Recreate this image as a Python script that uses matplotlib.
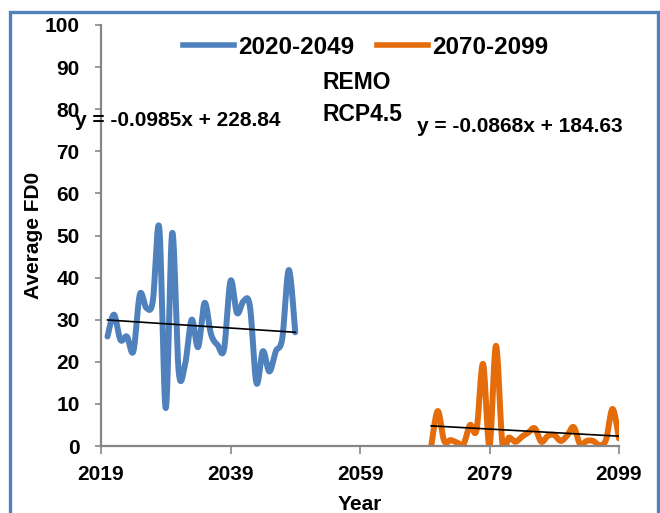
import numpy as np
import matplotlib
matplotlib.use("Agg")
import matplotlib.pyplot as plt
from matplotlib.patches import Rectangle
from matplotlib.lines import Line2D

years_early = list(range(2020, 2050))
fd0_early = [26.0, 31.2, 25.2, 26.0, 22.5, 36.0, 32.8, 34.4, 51.8, 9.0,
             50.6, 17.7, 19.5, 30.0, 23.5, 34.0, 26.5, 24.0, 23.0, 39.2,
             31.6, 34.4, 33.2, 15.0, 22.5, 17.7, 22.5, 25.6, 41.8, 27.0]
years_late = list(range(2070, 2100))
fd0_late = [0.0, 8.3, 1.2, 1.4, 0.8, 0.5, 5.0, 3.8, 19.5, 0.0,
            23.8, 0.5, 2.0, 1.0, 2.2, 3.2, 4.2, 1.0, 2.4, 2.6,
            1.2, 2.5, 4.5, 0.4, 1.2, 1.2, 0.2, 1.5, 8.8, 1.8]
series_labels = ["2020-2049", "2070-2099"]
eq_labels = ["y = -0.0985x + 228.84", "y = -0.0868x + 184.63"]
x_ticks = [2019, 2039, 2059, 2079, 2099]
y_ticks = list(range(0, 101, 10))

FONT = ["Liberation Sans", "DejaVu Sans"]
plt.rcParams["font.family"] = FONT
plt.rcParams["font.weight"] = "bold"

BLUE = "#4F81BD"
ORANGE = "#E46C0A"
GRAY = "#868686"


def smooth(x, y, n=24):
    """Excel-style smoothed line (Catmull-Rom Bezier through the points)."""
    x = np.asarray(x, float)
    y = np.asarray(y, float)
    P = np.column_stack([x, y])
    Pp = np.vstack([P[0], P, P[-1]])
    out = []
    t = np.linspace(0, 1, n, endpoint=False)[:, None]
    for i in range(len(P) - 1):
        p0, p1, p2, p3 = Pp[i], Pp[i + 1], Pp[i + 2], Pp[i + 3]
        c1 = p1 + (p2 - p0) / 6.0
        c2 = p2 - (p3 - p1) / 6.0
        seg = ((1 - t) ** 3) * p1 + 3 * ((1 - t) ** 2) * t * c1 + 3 * (1 - t) * t ** 2 * c2 + t ** 3 * p2
        out.append(seg)
    out.append(P[-1][None, :])
    out = np.vstack(out)
    return out[:, 0], out[:, 1]


fig = plt.figure(figsize=(6.6, 5.13), dpi=100)
ax = fig.add_axes([101 / 660, 1 - 446 / 513, (619 - 101) / 660, (446 - 25) / 513])

for xs, ys, col in [(years_early, fd0_early, BLUE), (years_late, fd0_late, ORANGE)]:
    sx, sy = smooth(xs, ys)
    ax.plot(sx, sy, color=col, lw=4.3, solid_capstyle="round", solid_joinstyle="round", zorder=2)
    k, b = np.polyfit(xs, ys, 1)
    xx = np.array([xs[0], xs[-1]], float)
    ax.plot(xx, k * xx + b, color="black", lw=1.2, zorder=3)

ax.set_xlim(2019, 2099)
ax.set_ylim(0, 100)
ax.set_xticks(x_ticks)
ax.set_yticks(y_ticks)
for s in ["top", "right"]:
    ax.spines[s].set_visible(False)
for s in ["left", "bottom"]:
    ax.spines[s].set_color(GRAY)
    ax.spines[s].set_linewidth(1.6)
ax.tick_params(axis="x", direction="out", length=5.5, width=1.2, color=GRAY,
               labelsize=15, pad=8)
ax.tick_params(axis="y", direction="out", length=4.3, width=1.2, color=GRAY,
               labelsize=15, pad=11)
for lab in ax.get_xticklabels() + ax.get_yticklabels():
    lab.set_fontweight("bold")
ax.set_xlabel("Year", fontsize=15, fontweight="bold", labelpad=8)
ax.set_ylabel("Average FD0", fontsize=15, fontweight="bold", labelpad=1)

handles = [Line2D([0], [0], color=BLUE, lw=4), Line2D([0], [0], color=ORANGE, lw=4)]
leg = ax.legend(handles, series_labels, loc="upper center", bbox_to_anchor=(0.511, 1.027),
                ncol=2, frameon=False, handlelength=2.1, handletextpad=0.15,
                columnspacing=0.95, prop={"size": 17.5, "weight": "bold", "family": FONT})

fig.text(322 / 660, 1 - 83 / 513, "REMO", fontsize=16.5, fontweight="bold", va="center", ha="left")
fig.text(322 / 660, 1 - 115 / 513, "RCP4.5", fontsize=16.5, fontweight="bold", va="center", ha="left")
fig.text(75 / 660, 1 - 121 / 513, eq_labels[0], fontsize=15, fontweight="bold", va="center", ha="left")
fig.text(417 / 660, 1 - 127 / 513, eq_labels[1], fontsize=15, fontweight="bold", va="center", ha="left")

border = Rectangle((10 / 660, -0.2), 648 / 660, 1.2 - 11.5 / 513, transform=fig.transFigure,
                   fill=False, edgecolor=BLUE, lw=2.4, clip_on=False)
fig.patches.append(border)

fig.savefig("out.png", dpi=100)
